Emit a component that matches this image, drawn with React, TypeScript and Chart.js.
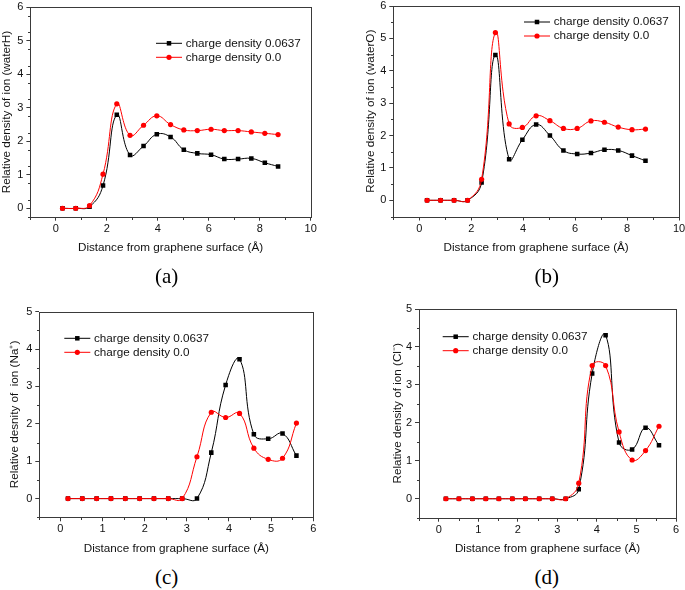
import { useEffect, useRef } from 'react';
import { Chart, registerables } from 'chart.js';

Chart.register(...registerables);

// (a) water H
const distWaterH = [0.26, 0.78, 1.32, 1.85, 2.39, 2.91, 3.44, 3.96, 4.5, 5.02, 5.55, 6.09, 6.61, 7.15, 7.67, 8.2, 8.72];
const waterHCharged = [0, 0, 0.05, 0.68, 2.79, 1.59, 1.86, 2.21, 2.13, 1.75, 1.64, 1.6, 1.47, 1.47, 1.49, 1.36, 1.25];
const waterHNeutral = [0, 0, 0.08, 1.02, 3.12, 2.18, 2.48, 2.76, 2.5, 2.34, 2.32, 2.36, 2.32, 2.32, 2.28, 2.24, 2.2];

// (b) water O
const distWaterO = [0.3, 0.82, 1.34, 1.86, 2.4, 2.93, 3.46, 3.97, 4.5, 5.03, 5.55, 6.08, 6.61, 7.13, 7.66, 8.19, 8.71];
const waterOCharged = [0, 0, 0, 0, 0.55, 4.49, 1.27, 1.87, 2.34, 2.0, 1.54, 1.43, 1.46, 1.56, 1.54, 1.38, 1.22];
const waterONeutral = [0, 0, 0, 0, 0.65, 5.18, 2.36, 2.25, 2.61, 2.46, 2.22, 2.22, 2.45, 2.41, 2.26, 2.18, 2.2];

// (c) Na+
const distNa = [0.18, 0.52, 0.86, 1.2, 1.54, 1.88, 2.22, 2.56, 2.89, 3.24, 3.58, 3.92, 4.25, 4.59, 4.93, 5.27, 5.6];
const naCharged = [0, 0, 0, 0, 0, 0, 0, 0, 0, 0, 1.23, 3.04, 3.73, 1.72, 1.6, 1.74, 1.15];
const naNeutral = [0, 0, 0, 0, 0, 0, 0, 0, 0, 1.12, 2.31, 2.17, 2.28, 1.35, 1.05, 1.08, 2.02];

// (d) Cl-
const distCl = [0.18, 0.51, 0.85, 1.19, 1.52, 1.86, 2.19, 2.54, 2.87, 3.21, 3.54, 3.88, 4.22, 4.56, 4.89, 5.23, 5.57];
const clCharged = [0, 0, 0, 0, 0, 0, 0, 0, 0, 0, 0.25, 3.3, 4.31, 1.48, 1.3, 1.87, 1.41];
const clNeutral = [0, 0, 0, 0, 0, 0, 0, 0, 0, 0, 0.41, 3.51, 3.51, 1.76, 1.02, 1.27, 1.91];

const seriesNames = ['charge density 0.0637', 'charge density 0.0'];
const xTitle = 'Distance from graphene surface (Å)';

const FAMILY = '"Liberation Sans", Arial, sans-serif';
const TICK_FONT = { family: FAMILY, size: 11 };
const TITLE_FONT = { family: FAMILY, size: 11.7 };
const LH = TITLE_FONT.size * 1.2;
const AXIS = '#3a3a3a';
const TEXT = '#111';
const BLACK = '#000';
const RED = '#ff0000';

type Box = { left: number; top: number; right: number; bottom: number };
type PanelCfg = {
  canvas: { x: number; y: number; w: number; h: number };
  area: Box;
  xRange: [number, number];
  xStep: number;
  xMinor: number;
  yRange: [number, number];
  yStep: number;
  yMinor: number;
  yTitle: string;
  yTitleX: number;
  xTitleY: number;
  legend: { dx: number; dy: number };
  dist: number[];
  charged: number[];
  neutral: number[];
};

const panels: PanelCfg[] = [
  {
    canvas: { x: 0, y: -10, w: 345, h: 275 },
    area: { left: 30.4, top: 7.3, right: 310.7, bottom: 216.7 },
    xRange: [-1, 10], xStep: 2, xMinor: 1,
    yRange: [-0.25, 6], yStep: 1, yMinor: 0.5,
    yTitle: 'Relative density of ion (waterH)', yTitleX: 6.5, xTitleY: 247.5,
    legend: { dx: 125.6, dy: 36 },
    dist: distWaterH, charged: waterHCharged, neutral: waterHNeutral,
  },
  {
    canvas: { x: 350, y: -10, w: 350, h: 275 },
    area: { left: 393.3, top: 6, right: 679, bottom: 216.5 },
    xRange: [-1, 10], xStep: 2, xMinor: 1,
    yRange: [-0.5, 6], yStep: 1, yMinor: 0.5,
    yTitle: 'Relative density of ion (waterO)', yTitleX: 371, xTitleY: 248,
    legend: { dx: 130.7, dy: 16 },
    dist: distWaterO, charged: waterOCharged, neutral: waterONeutral,
  },
  {
    canvas: { x: 0, y: 290, w: 345, h: 275 },
    area: { left: 39.3, top: 311.7, right: 313.3, bottom: 517.3 },
    xRange: [-0.5, 6], xStep: 1, xMinor: 0.5,
    yRange: [-0.5, 5], yStep: 1, yMinor: 0.5,
    yTitle: 'Relative desnity of  ion (Na\u207A)', yTitleX: 15, xTitleY: 548.3,
    legend: { dx: 25, dy: 26.6 },
    dist: distNa, charged: naCharged, neutral: naNeutral,
  },
  {
    canvas: { x: 350, y: 290, w: 350, h: 275 },
    area: { left: 419, top: 309, right: 676, bottom: 517.7 },
    xRange: [-0.5, 6], xStep: 1, xMinor: 0.5,
    yRange: [-0.5, 5], yStep: 1, yMinor: 0.5,
    yTitle: 'Relative density of ion (Cl\u207B)', yTitleX: 398, xTitleY: 548.3,
    legend: { dx: 23.7, dy: 27.7 },
    dist: distCl, charged: clCharged, neutral: clNeutral,
  },
];

const captions = [
  { text: '(a)', x: 166.7, y: 276 },
  { text: '(b)', x: 546.7, y: 276 },
  { text: '(c)', x: 166.7, y: 577 },
  { text: '(d)', x: 546.7, y: 577 },
];

function drawMarker(ctx: CanvasRenderingContext2D, kind: 'rect' | 'circle', x: number, y: number) {
  if (kind === 'rect') {
    ctx.fillStyle = BLACK;
    ctx.fillRect(x - 2.25, y - 2.25, 4.5, 4.5);
  } else {
    ctx.fillStyle = RED;
    ctx.beginPath();
    ctx.arc(x, y, 2.6, 0, Math.PI * 2);
    ctx.fill();
  }
}

// Origin-like decorations: closed frame, minor ticks and an in-plot legend
function framePlugin(cfg: PanelCfg) {
  return {
    id: 'originFrame',
    afterDraw(chart: Chart) {
      const { ctx, chartArea: a } = chart;
      const xs = chart.scales.x;
      const ys = chart.scales.y;
      ctx.save();
      ctx.strokeStyle = AXIS;
      ctx.lineWidth = 1;
      const L = Math.round(a.left) + 0.5;
      const R = Math.round(a.right) + 0.5;
      const T = Math.round(a.top) + 0.5;
      const B = Math.round(a.bottom) + 0.5;
      ctx.strokeRect(L, T, R - L, B - T);

      ctx.beginPath();
      for (let v = cfg.xRange[0]; v <= cfg.xRange[1] + 1e-9; v += cfg.xMinor) {
        const r = v / cfg.xStep;
        if (Math.abs(r - Math.round(r)) < 1e-6) continue;
        const px = Math.round(xs.getPixelForValue(v)) + 0.5;
        ctx.moveTo(px, B);
        ctx.lineTo(px, B + 2.5);
      }
      for (let v = cfg.yRange[0]; v <= cfg.yRange[1] + 1e-9; v += cfg.yMinor) {
        const r = v / cfg.yStep;
        if (Math.abs(r - Math.round(r)) < 1e-6) continue;
        const py = Math.round(ys.getPixelForValue(v)) + 0.5;
        ctx.moveTo(L, py);
        ctx.lineTo(L - 2.5, py);
      }
      ctx.stroke();

      const items: { color: string; kind: 'rect' | 'circle' }[] = [
        { color: BLACK, kind: 'rect' },
        { color: RED, kind: 'circle' },
      ];
      ctx.font = `${TITLE_FONT.size}px ${FAMILY}`;
      ctx.textBaseline = 'middle';
      ctx.textAlign = 'left';
      items.forEach((it, i) => {
        const lx = a.left + cfg.legend.dx;
        const ly = a.top + cfg.legend.dy + i * 14;
        ctx.strokeStyle = it.color;
        ctx.beginPath();
        ctx.moveTo(lx, ly);
        ctx.lineTo(lx + 26, ly);
        ctx.stroke();
        drawMarker(ctx, it.kind, lx + 13, ly);
        ctx.fillStyle = TEXT;
        ctx.fillText(seriesNames[i], lx + 29.7, ly);
      });
      ctx.restore();
    },
  };
}

function Panel({ cfg }: { cfg: PanelCfg }) {
  const canvasRef = useRef<HTMLCanvasElement>(null);

  useEffect(() => {
    if (!canvasRef.current) return undefined;
    const c = cfg.canvas;
    const a = cfg.area;
    const xScaleH = cfg.xTitleY - a.bottom + LH / 2;
    const toPts = (ys: number[]) => cfg.dist.map((x, i) => ({ x, y: ys[i] }));

    const chart = new Chart(canvasRef.current, {
      type: 'line',
      data: {
        datasets: [
          {
            label: seriesNames[0],
            data: toPts(cfg.charged),
            borderColor: BLACK,
            backgroundColor: BLACK,
            borderWidth: 1,
            tension: 0.45,
            pointStyle: 'rect',
            pointRadius: 3.2,
            pointBorderWidth: 0,
            order: 1,
          },
          {
            label: seriesNames[1],
            data: toPts(cfg.neutral),
            borderColor: RED,
            backgroundColor: RED,
            borderWidth: 1,
            tension: 0.45,
            pointStyle: 'circle',
            pointRadius: 2.6,
            pointBorderWidth: 0,
            order: 0,
          },
        ],
      },
      options: {
        animation: false,
        responsive: false,
        layout: {
          padding: {
            left: 0,
            top: a.top - c.y,
            right: c.x + c.w - a.right,
            bottom: c.y + c.h - a.bottom - xScaleH,
          },
        },
        plugins: { legend: { display: false }, tooltip: { enabled: false } },
        scales: {
          x: {
            type: 'linear',
            min: cfg.xRange[0],
            max: cfg.xRange[1],
            afterFit: (s: any) => {
              s.height = xScaleH;
            },
            ticks: {
              stepSize: cfg.xStep,
              includeBounds: false,
              autoSkip: false,
              maxRotation: 0,
              padding: 1.5,
              color: TEXT,
              font: TICK_FONT,
            },
            grid: { drawOnChartArea: false, drawTicks: true, tickLength: 4, tickColor: AXIS, tickWidth: 1 },
            border: { display: false },
            title: { display: true, text: xTitle, color: TEXT, font: TITLE_FONT, padding: { top: 0, bottom: 0 } },
          },
          y: {
            type: 'linear',
            min: cfg.yRange[0],
            max: cfg.yRange[1],
            afterFit: (s: any) => {
              s.width = a.left - c.x;
            },
            ticks: {
              stepSize: cfg.yStep,
              includeBounds: false,
              autoSkip: false,
              padding: 3,
              color: TEXT,
              font: TICK_FONT,
            },
            grid: { drawOnChartArea: false, drawTicks: true, tickLength: 4, tickColor: AXIS, tickWidth: 1 },
            border: { display: false },
            title: {
              display: true,
              text: cfg.yTitle,
              color: TEXT,
              font: TITLE_FONT,
              padding: { top: cfg.yTitleX - c.x - LH / 2, bottom: 0 },
            },
          },
        },
      },
      plugins: [framePlugin(cfg)],
    });

    return () => chart.destroy();
  }, [cfg]);

  return (
    <canvas
      ref={canvasRef}
      width={cfg.canvas.w}
      height={cfg.canvas.h}
      style={{ position: 'absolute', left: cfg.canvas.x, top: cfg.canvas.y }}
    />
  );
}

export default function App() {
  return (
    <div
      style={{
        position: 'absolute',
        left: 0,
        top: 0,
        width: 685,
        height: 590,
        overflow: 'hidden',
        background: '#fff',
      }}
    >
      {panels.map((p, i) => (
        <Panel key={i} cfg={p} />
      ))}
      {captions.map(cp => (
        <div
          key={cp.text}
          style={{
            position: 'absolute',
            left: cp.x - 30,
            top: cp.y - 12,
            width: 60,
            height: 24,
            lineHeight: '24px',
            textAlign: 'center',
            fontFamily: '"Liberation Serif", "Times New Roman", serif',
            fontSize: 21,
            color: '#000',
          }}
        >
          {cp.text}
        </div>
      ))}
    </div>
  );
}
